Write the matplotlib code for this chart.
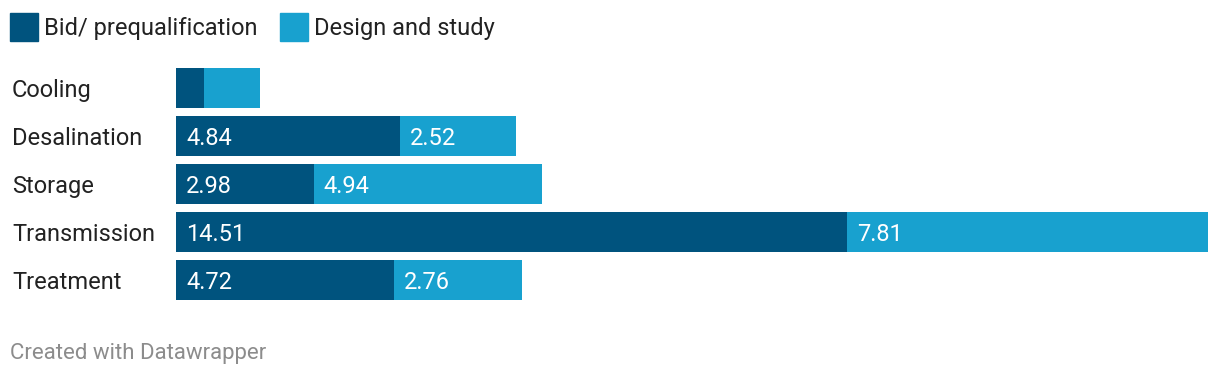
import matplotlib
matplotlib.use("Agg")
import matplotlib.pyplot as plt
from matplotlib.patches import Rectangle
from matplotlib.transforms import blended_transform_factory

plt.rcParams['font.family'] = ['Roboto', 'DejaVu Sans']

categories = ["Cooling", "Desalination", "Storage", "Transmission", "Treatment"]
bid = [0.61, 4.84, 2.98, 14.51, 4.72]
design = [1.21, 2.52, 4.94, 7.81, 2.76]
bid_labels = ["", "4.84", "2.98", "14.51", "4.72"]
design_labels = ["", "2.52", "4.94", "7.81", "2.76"]
series_names = ["Bid/ prequalification", "Design and study"]

c_dark = "#00537e"
c_light = "#18a1cf"

W, H = 1220, 378
fig = plt.figure(figsize=(W / 100, H / 100), dpi=100)

def fx(px):
    return px / W

def fy(py):
    return 1 - py / H

ax = fig.add_axes([fx(176), fy(300), fx(1208) - fx(176), fy(68) - fy(300)])
total_max = max(b + d for b, d in zip(bid, design))
n = len(categories)
pos = list(range(n))
h = 40 / 48
ax.barh(pos, bid, height=h, color=c_dark, linewidth=0)
ax.barh(pos, design, left=bid, height=h, color=c_light, linewidth=0)
ax.set_xlim(0, total_max)
ax.set_ylim(n - 1 + h / 2, -h / 2)
ax.axis('off')

FS = 17
px_per_unit = (1208 - 176) / total_max
off = 10 / px_per_unit
tr = blended_transform_factory(ax.transData, fig.transFigure)
for i in pos:
    yb = fy(88 + 48 * i + 8.7)
    if bid_labels[i]:
        ax.text(off, yb, bid_labels[i], color='white', fontsize=FS, va='baseline', ha='left', transform=tr)
    if design_labels[i]:
        ax.text(bid[i] + off, yb, design_labels[i], color='white', fontsize=FS, va='baseline', ha='left', transform=tr)
    fig.text(fx(12), yb, categories[i], fontsize=FS, va='baseline', ha='left', color='#222222')

# legend
fig.patches.append(Rectangle((fx(10), fy(41)), fx(28), fy(13) - fy(41), color=c_dark,
                             transform=fig.transFigure, figure=fig))
fig.text(fx(44), fy(34.7), series_names[0], fontsize=FS, va='baseline', ha='left', color='#222222')
fig.patches.append(Rectangle((fx(280), fy(41)), fx(28), fy(13) - fy(41), color=c_light,
                             transform=fig.transFigure, figure=fig))
fig.text(fx(314), fy(34.7), series_names[1], fontsize=FS, va='baseline', ha='left', color='#222222')

fig.text(fx(10), fy(359.3), "Created with Datawrapper", fontsize=16, va='baseline', ha='left', color='#8c8c8c')

fig.savefig("out.png", dpi=100)
